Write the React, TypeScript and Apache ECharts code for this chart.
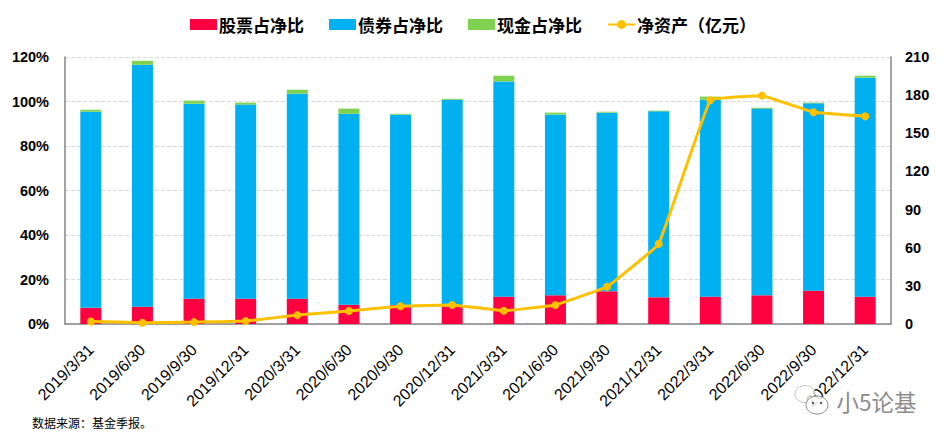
import React, { useEffect, useRef } from "react";
import * as echarts from "echarts";

const categories = ["2019/3/31","2019/6/30","2019/9/30","2019/12/31","2020/3/31","2020/6/30","2020/9/30","2020/12/31","2021/3/31","2021/6/30","2021/9/30","2021/12/31","2022/3/31","2022/6/30","2022/9/30","2022/12/31"];
const stockPct = [7.3,7.8,11.4,11.4,11.4,8.7,8.5,7.8,12.3,12.9,14.7,12.0,12.3,12.9,15.0,12.3];
const bondPct = [88.1,108.7,87.6,87.2,92.1,85.8,85.6,93.0,96.7,81.2,80.3,83.6,88.5,83.9,84.2,98.4];
const cashPct = [0.9,1.8,1.4,0.9,1.8,2.3,0.4,0.4,2.6,0.9,0.4,0.3,1.4,0.4,0.3,0.9];
const netAssets = [2,1,1.5,2.3,7,10.2,14,15,10.4,15,29.3,63,176,179.6,166.5,163.4];
const legendNames = ["股票占净比","债券占净比","现金占净比","净资产（亿元）"];
const footnote = "数据来源：基金季报。";
const watermark = "小5论基";

const CJK = '"Noto Sans CJK SC", sans-serif';
const LATIN = '"Liberation Sans", Arial, sans-serif';
const AXIS = "#868686";

export default function App() {
  const ref = useRef<HTMLDivElement>(null);
  useEffect(() => {
    document.body.style.margin = "0";
    const chart = echarts.init(ref.current!, undefined, { renderer: "svg" });
    const bar = (name: string, data: number[], color: string) => ({
      name, type: "bar", stack: "total", data, barWidth: 21,
      itemStyle: { color }, yAxisIndex: 0,
    });
    chart.setOption({
      animation: false,
      backgroundColor: "#fff",
      grid: { left: 65, right: 57, top: 57, bottom: 120 },
      legend: {
        left: 185, top: 11, itemWidth: 27, itemHeight: 11, itemGap: 25,
        textStyle: { fontFamily: CJK, fontWeight: "bold", fontSize: 17, color: "#000", padding: [0, 0, 0, -3] },
        data: [
          { name: legendNames[0], icon: "rect" },
          { name: legendNames[1], icon: "rect" },
          { name: legendNames[2], icon: "rect" },
          { name: legendNames[3] },
        ],
      },
      xAxis: {
        type: "category", data: categories,
        axisLine: { lineStyle: { color: AXIS, width: 1.5 } },
        axisTick: { show: false },
        axisLabel: { rotate: 45, interval: 0, margin: 23, fontFamily: LATIN, fontSize: 16, color: "#000" },
      },
      yAxis: [
        {
          type: "value", min: 0, max: 120, interval: 20,
          axisLine: { show: true, lineStyle: { color: AXIS, width: 1.5 } },
          axisTick: { show: false },
          axisLabel: { formatter: "{value}%", margin: 16, fontFamily: LATIN, fontWeight: "bold", fontSize: 14.5, color: "#000" },
          splitLine: { lineStyle: { color: "#d9d9d9", type: "dashed", width: 1 } },
        },
        {
          type: "value", min: 0, max: 210, interval: 30, position: "right",
          axisLine: { show: true, lineStyle: { color: AXIS, width: 1.5 } },
          axisTick: { show: false },
          axisLabel: { margin: 14, fontFamily: LATIN, fontWeight: "bold", fontSize: 14.5, color: "#000" },
          splitLine: { show: false },
        },
      ],
      series: [
        bar(legendNames[0], stockPct, "#ff0040"),
        bar(legendNames[1], bondPct, "#00b0f0"),
        bar(legendNames[2], cashPct, "#7ed250"),
        {
          name: legendNames[3], type: "line", yAxisIndex: 1, data: netAssets,
          smooth: 0.06, symbol: "circle", symbolSize: 8,
          lineStyle: { color: "#ffc000", width: 3 },
          itemStyle: { color: "#ffc000" },
          z: 5,
        },
      ],
      graphic: [
        { type: "text", left: 32, top: 416, z: 10, style: { text: footnote, fontFamily: CJK, fontSize: 12, fill: "#000" } },
        { type: "ellipse", shape: { cx: 805, cy: 394, rx: 10, ry: 8.5 }, z: 20, style: { fill: "rgba(255,255,255,0.75)", stroke: "#c8c8c8", lineWidth: 1 } },
        { type: "ellipse", shape: { cx: 817, cy: 405, rx: 11, ry: 9 }, z: 21, style: { fill: "rgba(255,255,255,0.85)", stroke: "#8a8a8a", lineWidth: 1 } },
        { type: "circle", shape: { cx: 813, cy: 403, r: 1.2 }, z: 22, style: { fill: "#555" } },
        { type: "circle", shape: { cx: 821, cy: 403, r: 1.2 }, z: 22, style: { fill: "#555" } },
        { type: "text", left: 836, top: 389, z: 20, style: { text: watermark, fontFamily: CJK, fontSize: 22.5, fill: "#8c8c8c", stroke: "rgba(255,255,255,0.8)", lineWidth: 1 } },
      ],
    });
    return () => chart.dispose();
  }, []);
  return <div ref={ref} style={{ position: "absolute", left: 0, top: 0, width: 948, height: 444 }} />;
}
